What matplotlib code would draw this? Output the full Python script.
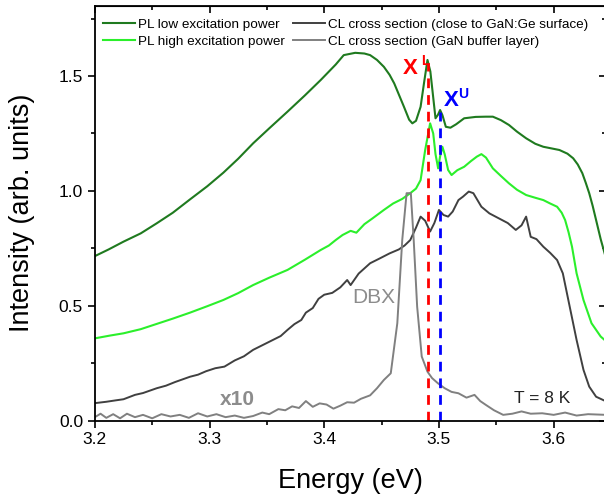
import matplotlib
matplotlib.use("Agg")
import matplotlib.pyplot as plt
from matplotlib.ticker import MultipleLocator, FormatStrFormatter

plt.rcParams['font.family'] = ['Liberation Sans', 'DejaVu Sans']

# PL low excitation power
e_low = [3.200, 3.212, 3.225, 3.240, 3.254, 3.268, 3.283, 3.298, 3.312, 3.325,
         3.338, 3.352, 3.368, 3.383, 3.397, 3.410, 3.417, 3.427, 3.435, 3.440,
         3.446, 3.452, 3.457, 3.461, 3.4695, 3.474, 3.4768, 3.480, 3.484, 3.487,
         3.490, 3.4925, 3.4943, 3.497, 3.499, 3.501, 3.503, 3.506, 3.510, 3.515,
         3.522, 3.532, 3.541, 3.547, 3.554, 3.561, 3.568, 3.576, 3.584, 3.591,
         3.598, 3.605, 3.612, 3.617, 3.621, 3.625, 3.628, 3.631, 3.634, 3.637,
         3.641, 3.646]
i_low = [0.716, 0.745, 0.779, 0.815, 0.859, 0.905, 0.963, 1.020, 1.079, 1.140,
         1.207, 1.272, 1.345, 1.415, 1.483, 1.550, 1.591, 1.601, 1.598, 1.591,
         1.570, 1.540, 1.505, 1.468, 1.366, 1.310, 1.294, 1.305, 1.366, 1.470,
         1.570, 1.520, 1.439, 1.316, 1.330, 1.352, 1.330, 1.279, 1.275, 1.290,
         1.316, 1.322, 1.323, 1.323, 1.308, 1.287, 1.258, 1.229, 1.205, 1.192,
         1.185, 1.178, 1.162, 1.142, 1.115, 1.077, 1.035, 0.990, 0.935, 0.873,
         0.790, 0.700]

# PL high excitation power
e_high = [3.200, 3.213, 3.225, 3.240, 3.254, 3.268, 3.283, 3.298, 3.312, 3.325,
          3.338, 3.352, 3.368, 3.383, 3.397, 3.404, 3.410, 3.416, 3.423, 3.428,
          3.435, 3.442, 3.452, 3.460, 3.468, 3.475, 3.480, 3.484, 3.488, 3.4923,
          3.495, 3.497, 3.4993, 3.501, 3.503, 3.505, 3.508, 3.511, 3.516, 3.522,
          3.528, 3.533, 3.537, 3.541, 3.547, 3.554, 3.561, 3.568, 3.576, 3.584,
          3.591, 3.597, 3.603, 3.607, 3.610, 3.613, 3.616, 3.620, 3.626, 3.633,
          3.641, 3.646]
i_high = [0.358, 0.370, 0.380, 0.398, 0.421, 0.444, 0.470, 0.498, 0.525, 0.555,
          0.590, 0.622, 0.656, 0.700, 0.743, 0.762, 0.786, 0.808, 0.826, 0.818,
          0.855, 0.880, 0.917, 0.945, 0.965, 0.990, 1.010, 1.047, 1.178, 1.294,
          1.250, 1.160, 1.098, 1.150, 1.192, 1.160, 1.091, 1.069, 1.090, 1.105,
          1.130, 1.149, 1.160, 1.145, 1.098, 1.065, 1.033, 1.005, 0.982, 0.970,
          0.960, 0.945, 0.931, 0.905, 0.873, 0.820, 0.757, 0.641, 0.525, 0.424,
          0.366, 0.344]

# CL cross section (close to GaN:Ge surface)
e_surf = [3.200, 3.210, 3.218, 3.225, 3.235, 3.242, 3.254, 3.262, 3.270, 3.283,
          3.290, 3.297, 3.305, 3.313, 3.322, 3.330, 3.338, 3.346, 3.354, 3.362,
          3.368, 3.374, 3.380, 3.384, 3.390, 3.395, 3.400, 3.407, 3.414, 3.420,
          3.423, 3.430, 3.440, 3.448, 3.457, 3.465, 3.470, 3.475, 3.480, 3.484,
          3.488, 3.4923, 3.496, 3.500, 3.504, 3.508, 3.512, 3.517, 3.521, 3.526,
          3.530, 3.537, 3.544, 3.552, 3.560, 3.567, 3.572, 3.576, 3.580, 3.585,
          3.591, 3.597, 3.603, 3.608, 3.614, 3.620, 3.626, 3.631, 3.637, 3.646]
i_surf = [0.076, 0.082, 0.088, 0.093, 0.112, 0.120, 0.141, 0.152, 0.168, 0.191,
          0.200, 0.215, 0.228, 0.235, 0.262, 0.280, 0.308, 0.328, 0.348, 0.368,
          0.395, 0.420, 0.438, 0.470, 0.490, 0.530, 0.548, 0.556, 0.580, 0.612,
          0.590, 0.640, 0.685, 0.705, 0.728, 0.745, 0.762, 0.786, 0.840, 0.888,
          0.870, 0.823, 0.860, 0.917, 0.895, 0.888, 0.910, 0.960, 0.975, 0.997,
          0.990, 0.931, 0.902, 0.881, 0.860, 0.830, 0.850, 0.888, 0.800, 0.790,
          0.757, 0.730, 0.699, 0.641, 0.496, 0.351, 0.221, 0.148, 0.104, 0.083]

# CL cross section (GaN buffer layer), x10
e_buf = [3.200, 3.205, 3.210, 3.216, 3.222, 3.228, 3.235, 3.242, 3.250, 3.258,
         3.266, 3.274, 3.282, 3.290, 3.298, 3.306, 3.314, 3.322, 3.330, 3.338,
         3.346, 3.352, 3.360, 3.366, 3.372, 3.378, 3.384, 3.390, 3.396, 3.402,
         3.408, 3.414, 3.420, 3.426, 3.432, 3.440, 3.446, 3.452, 3.458, 3.4637,
         3.468, 3.4718, 3.4755, 3.478, 3.481, 3.485, 3.490, 3.494, 3.499, 3.505,
         3.511, 3.517, 3.524, 3.531, 3.536, 3.541, 3.548, 3.556, 3.564, 3.572,
         3.580, 3.590, 3.600, 3.610, 3.620, 3.630, 3.646]
i_buf = [0.015, 0.030, 0.012, 0.028, 0.010, 0.030, 0.015, 0.025, 0.010, 0.028,
         0.018, 0.025, 0.012, 0.032, 0.018, 0.028, 0.015, 0.022, 0.012, 0.020,
         0.035, 0.028, 0.050, 0.045, 0.062, 0.055, 0.085, 0.060, 0.075, 0.070,
         0.052, 0.065, 0.080, 0.078, 0.095, 0.110, 0.141, 0.177, 0.206, 0.424,
         0.786, 0.990, 0.990, 0.786, 0.496, 0.279, 0.213, 0.185, 0.163, 0.141,
         0.125, 0.119, 0.100, 0.112, 0.085, 0.068, 0.045, 0.025, 0.030, 0.040,
         0.030, 0.032, 0.025, 0.035, 0.022, 0.028, 0.025]

# exciton markers
x_lower = 3.4905
x_upper = 3.501
top_lower = 1.555
top_upper = 1.345

fig = plt.figure(figsize=(6.04, 4.96), dpi=100)
ax = fig.add_axes([0.157, 0.152, 0.847, 0.836])

ax.plot(e_low, i_low, color='#1f7a1f', lw=1.5, label='PL low excitation power')
ax.plot(e_high, i_high, color='#2bef2b', lw=1.5, label='PL high excitation power')
ax.plot(e_surf, i_surf, color='#404040', lw=1.4, label='CL cross section (close to GaN:Ge surface)')
ax.plot(e_buf, i_buf, color='#808080', lw=1.4, label='CL cross section (GaN buffer layer)')

ax.plot([x_lower, x_lower], [0, top_lower], color='#ff0000', lw=2, dashes=(3.5, 2.5))
ax.plot([x_upper, x_upper], [0, top_upper], color='#0000ff', lw=2, dashes=(3.5, 2.5))

ax.text(3.4748, 1.533, 'X', color='#ff0000', fontsize=16, fontweight='bold',
        ha='center', va='center', zorder=5)
ax.text(3.4878, 1.566, 'L', color='#ff0000', fontsize=10, fontweight='bold',
        ha='center', va='center', zorder=5)
ax.text(3.5103, 1.395, 'X', color='#0000ff', fontsize=16, fontweight='bold',
        ha='center', va='center', zorder=5)
ax.text(3.5208, 1.420, 'U', color='#0000ff', fontsize=10, fontweight='bold',
        ha='center', va='center', zorder=5)
ax.text(3.443, 0.535, 'DBX', color='#8c8c8c', fontsize=15, ha='center', va='center')
ax.text(3.324, 0.09, 'x10', color='#8c8c8c', fontsize=15, fontweight='bold',
        ha='center', va='center')
ax.text(3.590, 0.095, 'T = 8 K', color='#222222', fontsize=12.5, ha='center', va='center')

ax.set_xlim(3.2, 3.646)
ax.set_ylim(0, 1.805)
ax.xaxis.set_major_locator(MultipleLocator(0.1))
ax.xaxis.set_minor_locator(MultipleLocator(0.05))
ax.yaxis.set_major_locator(MultipleLocator(0.5))
ax.yaxis.set_minor_locator(MultipleLocator(0.25))
ax.xaxis.set_major_formatter(FormatStrFormatter('%.1f'))
ax.yaxis.set_major_formatter(FormatStrFormatter('%.1f'))

ax.tick_params(which='both', direction='out', top=False, right=False, labelsize=12.5, width=1.2)
ax.tick_params(which='major', length=5)
ax.tick_params(which='minor', length=3)
sec_x = ax.secondary_xaxis('top')
sec_x.xaxis.set_major_locator(MultipleLocator(0.1))
sec_x.xaxis.set_minor_locator(MultipleLocator(0.05))
sec_x.tick_params(which='both', direction='in', labeltop=False, width=1.2)
sec_x.tick_params(which='major', length=5)
sec_x.tick_params(which='minor', length=3)
sec_y = ax.secondary_yaxis('right')
sec_y.yaxis.set_major_locator(MultipleLocator(0.5))
sec_y.yaxis.set_minor_locator(MultipleLocator(0.25))
sec_y.tick_params(which='both', direction='in', labelright=False, width=1.2)
sec_y.tick_params(which='major', length=5)
sec_y.tick_params(which='minor', length=3)
for sp in ax.spines.values():
    sp.set_linewidth(1.3)

ax.set_xlabel('Energy (eV)', fontsize=19.5, labelpad=15)
ax.set_ylabel('Intensity (arb. units)', fontsize=19.5, labelpad=17)

ax.legend(loc='upper left', ncol=2, frameon=False, fontsize=9.7, handlelength=2.4,
          handletextpad=0.2, columnspacing=0.6, labelspacing=0.35,
          borderaxespad=0.2, bbox_to_anchor=(0.0, 0.99))

fig.savefig('out.png', dpi=100)
